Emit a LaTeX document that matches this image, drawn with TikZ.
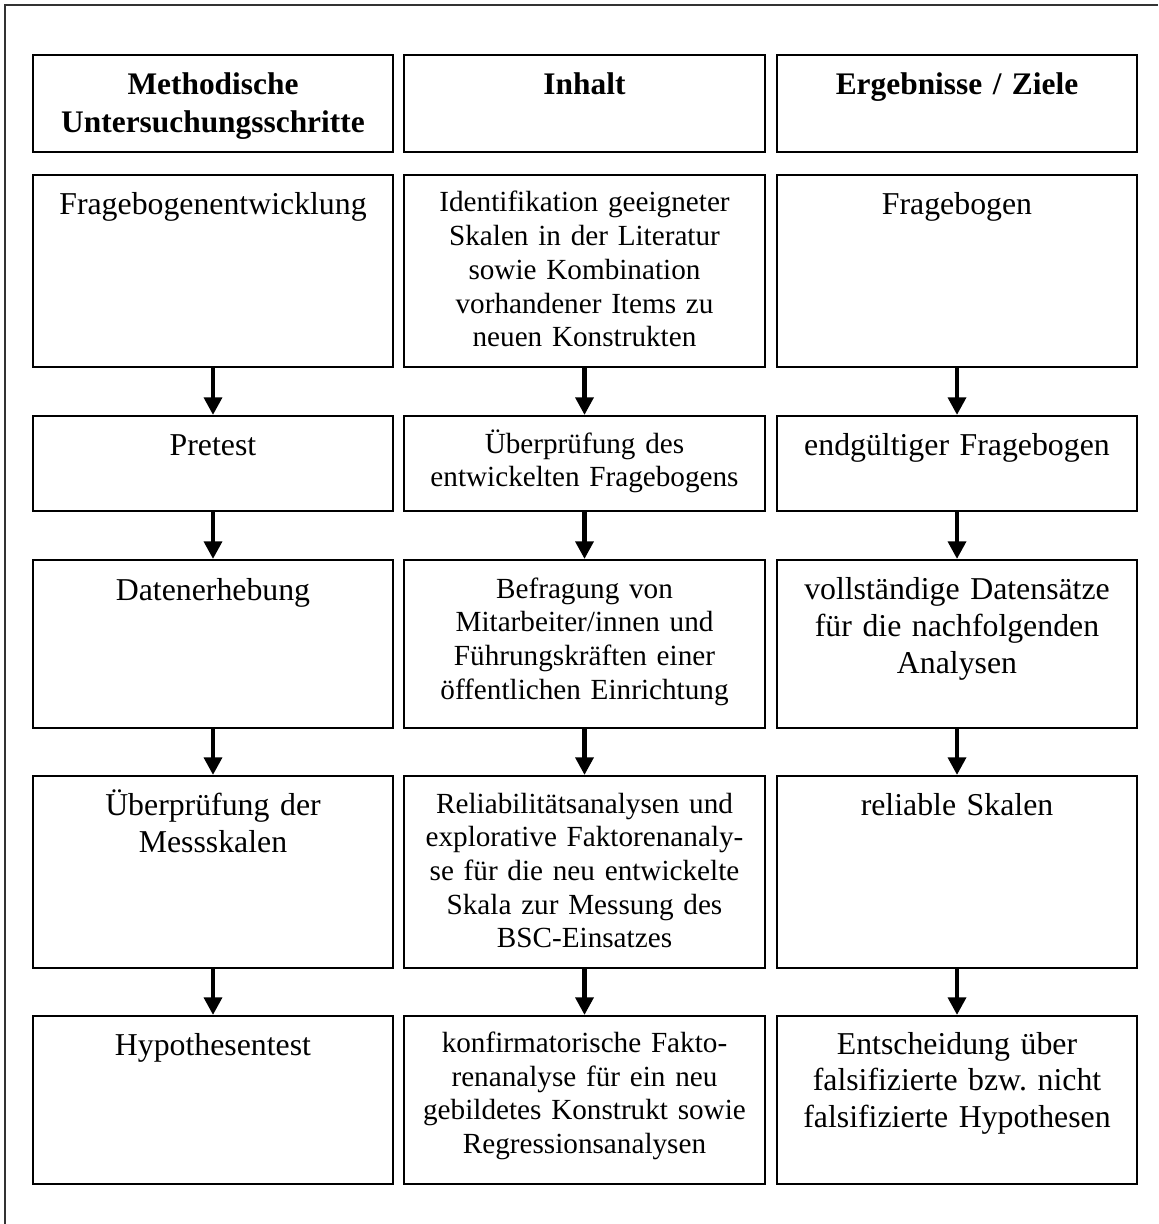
\documentclass[tikz,border=0pt]{standalone}
\usepackage{fontspec}
\setmainfont{Liberation Serif}
\usetikzlibrary{arrows.meta}

\tikzset{
  box/.style={draw, line width=1pt, inner sep=0pt, anchor=north west},
  txt/.style={anchor=base, text width=176pt, align=center, inner sep=0pt,
    font=\fontsize{15.9}{18.35}\selectfont\frenchspacing},
  small/.style={txt, font=\fontsize{14.6}{16.85}\selectfont\frenchspacing},
  hdr/.style={txt, font=\fontsize{15.7}{19}\selectfont\bfseries},
  arr/.style={line width=2.3pt, -{Triangle[length=8.8pt, width=8.8pt]}},
  frame/.style={line width=1pt, draw=black!80}
}

\begin{document}
\begin{tikzpicture}[x=0.5pt, y=-0.5pt]
\useasboundingbox (0,0) rectangle (1158,1224);

% outer frame (top and left edges)
\coordinate (fl) at (5,1224);
\coordinate (fc) at (5,5);
\coordinate (fr) at (1158,5);
\draw[frame] (fl) -- (fc) -- (fr);

% header row
\node[box, minimum width=180pt, minimum height=48.5pt] (h1) at (32,54) {};
\node[box, minimum width=180.5pt, minimum height=48.5pt] (h2) at (403,54) {};
\node[box, minimum width=180pt, minimum height=48.5pt] (h3) at (776,54) {};
\node[hdr] (h1t) at ([yshift=-20.5pt]h1.north) {Methodische\\Untersuchungsschritte};
\node[hdr] (h2t) at ([yshift=-20.5pt]h2.north) {Inhalt};
\node[hdr] (h3t) at ([yshift=-20.5pt]h3.north) {Ergebnisse / Ziele};

% column 1: methodical steps
\node[box, minimum width=180pt, minimum height=96pt] (m1) at (32,174) {};
\node[box, minimum width=180pt, minimum height=47.5pt] (m2) at (32,415) {};
\node[box, minimum width=180pt, minimum height=84pt] (m3) at (32,559) {};
\node[box, minimum width=180pt, minimum height=96pt] (m4) at (32,775) {};
\node[box, minimum width=180pt, minimum height=84pt] (m5) at (32,1015) {};

% column 2: content
\node[box, minimum width=180.5pt, minimum height=96pt] (i1) at (403,174) {};
\node[box, minimum width=180.5pt, minimum height=47.5pt] (i2) at (403,415) {};
\node[box, minimum width=180.5pt, minimum height=84pt] (i3) at (403,559) {};
\node[box, minimum width=180.5pt, minimum height=96pt] (i4) at (403,775) {};
\node[box, minimum width=180.5pt, minimum height=84pt] (i5) at (403,1015) {};

% column 3: results / goals
\node[box, minimum width=180pt, minimum height=96pt] (e1) at (776,174) {};
\node[box, minimum width=180pt, minimum height=47.5pt] (e2) at (776,415) {};
\node[box, minimum width=180pt, minimum height=84pt] (e3) at (776,559) {};
\node[box, minimum width=180pt, minimum height=96pt] (e4) at (776,775) {};
\node[box, minimum width=180pt, minimum height=84pt] (e5) at (776,1015) {};

% texts, column 1
\node[txt] (m1t) at ([yshift=-20.5pt]m1.north) {Fragebogenentwicklung};
\node[txt] (m2t) at ([yshift=-20.3pt]m2.north) {Pretest};
\node[txt] (m3t) at ([yshift=-20.5pt]m3.north) {Datenerhebung};
\node[txt] (m4t) at ([yshift=-20.3pt]m4.north) {Überprüfung der\\Messskalen};
\node[txt] (m5t) at ([yshift=-20.3pt]m5.north) {Hypothesentest};

% texts, column 2
\node[small] (i1t) at ([yshift=-19pt]i1.north) {Identifikation geeigneter\\Skalen in der Literatur\\sowie Kombination\\vorhandener Items zu\\neuen Konstrukten};
\node[small] (i2t) at ([yshift=-19pt]i2.north) {Überprüfung des\\entwickelten Fragebogens};
\node[small] (i3t) at ([yshift=-19.5pt]i3.north) {Befragung von\\Mitarbeiter/innen und\\Führungskräften einer\\öffentlichen Einrichtung};
\node[small] (i4t) at ([yshift=-19pt]i4.north) {Reliabilitätsanalysen und\\explorative Faktorenanaly-\\se für die neu entwickelte\\Skala zur Messung des\\BSC-Einsatzes};
\node[small] (i5t) at ([yshift=-18.7pt]i5.north) {konfirmatorische Fakto-\\renanalyse für ein neu\\gebildetes Konstrukt sowie\\Regressionsanalysen};

% texts, column 3
\node[txt] (e1t) at ([yshift=-20.3pt]e1.north) {Fragebogen};
\node[txt] (e2t) at ([yshift=-20.3pt]e2.north) {endgültiger Fragebogen};
\node[txt] (e3t) at ([yshift=-20.3pt]e3.north) {vollständige Datensätze\\für die nachfolgenden\\Analysen};
\node[txt] (e4t) at ([yshift=-20.3pt]e4.north) {reliable Skalen};
\node[txt] (e5t) at ([yshift=-19.5pt]e5.north) {Entscheidung über\\falsifizierte bzw. nicht\\falsifizierte Hypothesen};

% arrows between consecutive steps
\foreach \c in {m,i,e}{
  \draw[arr] (\c1.south) -- (\c2.north);
  \draw[arr] (\c2.south) -- (\c3.north);
  \draw[arr] (\c3.south) -- (\c4.north);
  \draw[arr] (\c4.south) -- (\c5.north);
}
\end{tikzpicture}
\end{document}
